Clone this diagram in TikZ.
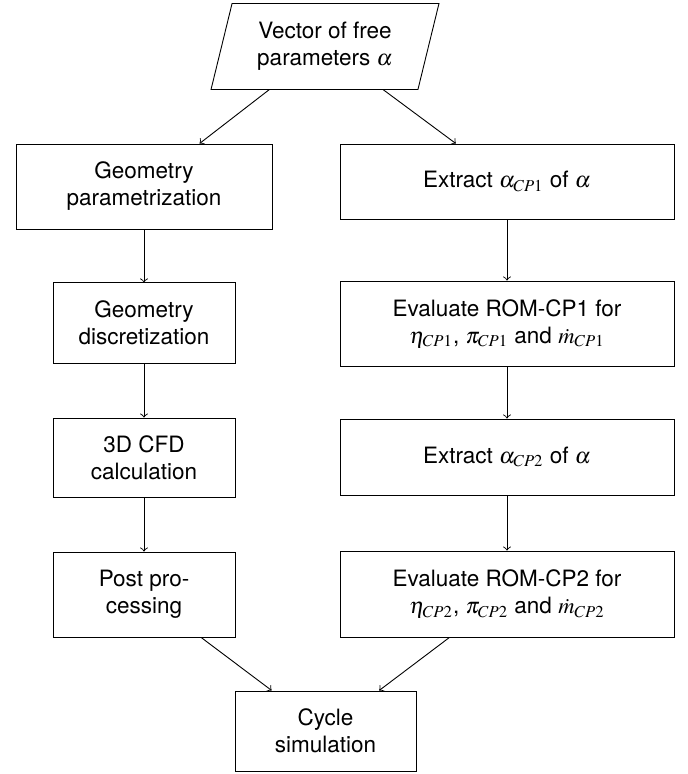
\documentclass[tikz,border=0pt]{standalone}
\usepackage{mathptmx}
\usepackage[no-math]{fontspec}
\setmainfont{TeX Gyre Heros}
\begin{document}
\begin{tikzpicture}[x=0.44444pt,y=-0.44444pt,
  box/.style={draw, rectangle, align=center, inner sep=0pt},
  lbox/.style={box, minimum width=80.9pt},
  rbox/.style={box, minimum width=148.4pt},
  arr/.style={->}]
\useasboundingbox (0,0) rectangle (687,774);
% input parallelogram
\node[inner sep=0pt, minimum width=91.56pt, minimum height=37.8pt, align=center] (param) at (325,46.5) {Vector of free\\parameters $\alpha$};
\draw ([xshift=4.67pt]param.north west) -- ([xshift=4.67pt]param.north east)
   -- ([xshift=-4.67pt]param.south east) -- ([xshift=-4.67pt]param.south west) -- cycle;
% left column
\node[box, minimum width=113.8pt, minimum height=37.8pt] (gparam) at (144,186.5) {Geometry\\parametrization};
\node[lbox, minimum height=35.6pt] (gdisc) at (144,323) {Geometry\\discretization};
\node[lbox, minimum height=35.1pt] (cfd) at (144,457.5) {3D CFD\\calculation};
\node[lbox, minimum height=37.8pt] (post) at (144,594.5) {Post pro-\\cessing};
% right column
\node[rbox, minimum height=33.3pt] (ext1) at (507,181.5) {Extract $\alpha_{CP1}$ of $\alpha$};
\node[rbox, minimum height=37.8pt] (eval1) at (507,323.5) {Evaluate ROM-CP1 for\\$\eta_{CP1}$, $\pi_{CP1}$ and $\dot{m}_{CP1}$};
\node[rbox, minimum height=33.8pt] (ext2) at (507,457) {Extract $\alpha_{CP2}$ of $\alpha$};
\node[rbox, minimum height=38.2pt] (eval2) at (507,594) {Evaluate ROM-CP2 for\\$\eta_{CP2}$, $\pi_{CP2}$ and $\dot{m}_{CP2}$};
% output
\node[box, minimum width=80.4pt, minimum height=35.6pt] (cycle) at (325.5,731) {Cycle\\simulation};
% connectors
\draw[arr] (param) -- (gparam);
\draw[arr] (param) -- (ext1);
\draw[arr] (gparam) -- (gdisc);
\draw[arr] (gdisc) -- (cfd);
\draw[arr] (cfd) -- (post);
\draw[arr] (ext1) -- (eval1);
\draw[arr] (eval1) -- (ext2);
\draw[arr] (ext2) -- (eval2);
\draw[arr] (post) -- (cycle);
\draw[arr] (eval2) -- (cycle);
\end{tikzpicture}
\end{document}
